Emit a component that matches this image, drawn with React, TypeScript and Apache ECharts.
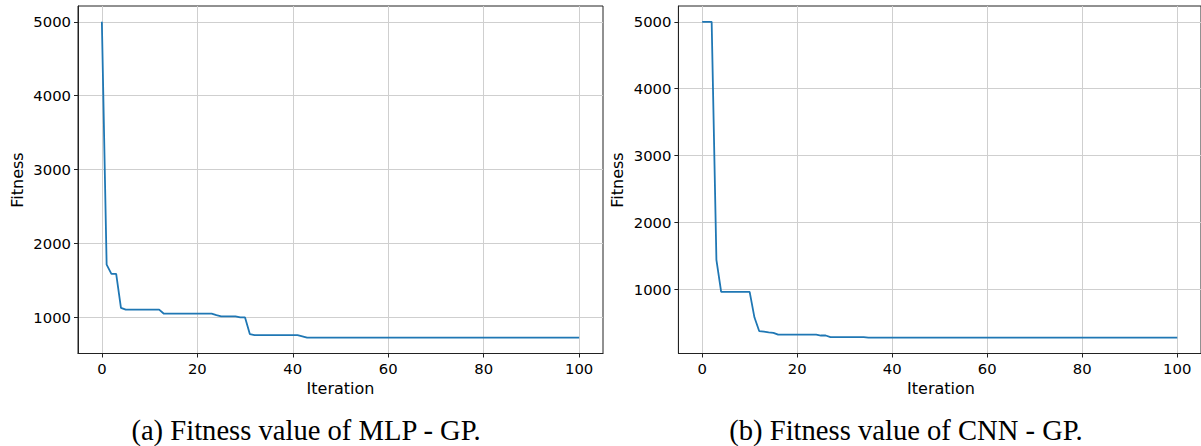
import React, { useEffect, useRef } from "react";
import * as echarts from "echarts";

const iterations: number[] = [
  0, 1, 2, 3, 4, 5, 6, 7, 8, 9, 10, 11, 12, 13, 14, 15, 16, 17, 18, 19, 20,
  21, 22, 23, 24, 25, 26, 27, 28, 29, 30, 31, 32, 33, 34, 35, 36, 37, 38, 39, 40,
  41, 42, 43, 44, 45, 46, 47, 48, 49, 50, 51, 52, 53, 54, 55, 56, 57, 58, 59, 60,
  61, 62, 63, 64, 65, 66, 67, 68, 69, 70, 71, 72, 73, 74, 75, 76, 77, 78, 79, 80,
  81, 82, 83, 84, 85, 86, 87, 88, 89, 90, 91, 92, 93, 94, 95, 96, 97, 98, 99, 100,
];

const mlpFitness: number[] = [
  5000, 1710, 1585, 1585, 1125, 1100, 1100, 1100, 1100, 1100, 1100, 1100, 1100,
  1045, 1045, 1045, 1045, 1045, 1045, 1045, 1045, 1045, 1045, 1045,
  1025, 1008, 1008, 1008, 1008, 995, 995, 770,
  756, 756, 756, 756, 756, 756, 756, 756, 756, 756, 738,
  720, 720, 720, 720, 720, 720, 720, 720, 720, 720, 720, 720, 720, 720, 720, 720,
  720, 720, 720, 720, 720, 720, 720, 720, 720, 720, 720, 720, 720, 720, 720, 720,
  720, 720, 720, 720, 720, 720, 720, 720, 720, 720, 720, 720, 720, 720, 720, 720,
  720, 720, 720, 720, 720, 720, 720, 720, 720, 720,
];

const cnnFitness: number[] = [
  5000, 5000, 5000, 1440, 960, 960, 960, 960, 960, 960, 960, 580, 375, 365, 355,
  348, 320, 320, 320, 320, 320, 320, 320, 320, 320, 308, 308,
  283, 283, 283, 283, 283, 283, 283, 283,
  275, 275, 275, 275, 275, 275, 275, 275, 275, 275, 275, 275, 275, 275, 275, 275,
  275, 275, 275, 275, 275, 275, 275, 275, 275, 275, 275, 275, 275, 275, 275, 275,
  275, 275, 275, 275, 275, 275, 275, 275, 275, 275, 275, 275, 275, 275, 275, 275,
  275, 275, 275, 275, 275, 275, 275, 275, 275, 275, 275, 275, 275, 275, 275, 275,
  275, 275,
];

const xTicks: number[] = [0, 20, 40, 60, 80, 100];
const yTicks: number[] = [1000, 2000, 3000, 4000, 5000];
const xLabel = "Iteration";
const yLabel = "Fitness";
const captions: string[] = ["(a) Fitness value of MLP - GP.", "(b) Fitness value of CNN - GP."];

const FONT = "DejaVu Sans";
const LINE = "#1f77b4";
const TICK_FS = 14.8;
const NAME_FS = 16;

function xAxisCfg(gridIndex: number) {
  return {
    type: "value",
    gridIndex,
    min: -5,
    max: 105,
    axisLine: { show: true, onZero: false, lineStyle: { color: "#222", width: 1 } },
    axisTick: { show: true, length: 4, inside: false, customValues: xTicks, lineStyle: { color: "#222" } },
    axisLabel: {
      show: true,
      customValues: xTicks,
      margin: 7,
      fontFamily: FONT,
      fontSize: TICK_FS,
      color: "#000",
      formatter: (v: number) => String(v),
    },
    splitLine: { show: true, lineStyle: { color: "#cfcfcf", width: 1 } },
  };
}

function yAxisCfg(gridIndex: number, min: number, max: number) {
  return {
    type: "value",
    gridIndex,
    min,
    max,
    axisLine: { show: true, onZero: false, lineStyle: { color: "#222", width: 1 } },
    axisTick: { show: true, length: 4, inside: false, customValues: yTicks, lineStyle: { color: "#222" } },
    axisLabel: {
      show: true,
      customValues: yTicks,
      margin: 7,
      fontFamily: FONT,
      fontSize: TICK_FS,
      color: "#000",
      formatter: (v: number) => String(v),
    },
    splitLine: { show: true, lineStyle: { color: "#cfcfcf", width: 1 } },
  };
}

export default function App() {
  const ref = useRef<HTMLDivElement>(null);
  useEffect(() => {
    if (!ref.current) return;
    const chart = echarts.init(ref.current, undefined, { renderer: "svg" });
    const mlpData = iterations.map((x, i) => [x, mlpFitness[i]]);
    const cnnData = iterations.map((x, i) => [x, cnnFitness[i]]);
    chart.setOption({
      animation: false,
      backgroundColor: "#fff",
      grid: [
        { left: 78, top: 6, width: 525, height: 347.5, show: true, borderColor: "#222", borderWidth: 1, backgroundColor: "transparent" },
        { left: 678.4, top: 6, width: 525.5, height: 347.5, show: true, borderColor: "#222", borderWidth: 1, backgroundColor: "transparent" },
      ],
      xAxis: [xAxisCfg(0), xAxisCfg(1)],
      yAxis: [yAxisCfg(0, 506, 5214), yAxisCfg(1, 39, 5236)],
      series: [
        {
          type: "line",
          xAxisIndex: 0,
          yAxisIndex: 0,
          data: mlpData,
          showSymbol: false,
          symbol: "none",
          lineStyle: { color: LINE, width: 1.8 },
        },
        {
          type: "line",
          xAxisIndex: 1,
          yAxisIndex: 1,
          data: cnnData,
          showSymbol: false,
          symbol: "none",
          lineStyle: { color: LINE, width: 1.8 },
        },
      ],
      graphic: [
        { type: "text", x: 340.5, y: 388.5, style: { text: xLabel, font: `${NAME_FS}px "${FONT}"`, fill: "#000", textAlign: "center", textVerticalAlign: "middle" } },
        { type: "text", x: 941, y: 388.5, style: { text: xLabel, font: `${NAME_FS}px "${FONT}"`, fill: "#000", textAlign: "center", textVerticalAlign: "middle" } },
        { type: "text", x: 17, y: 180, rotation: Math.PI / 2, style: { text: yLabel, font: `${NAME_FS}px "${FONT}"`, fill: "#000", textAlign: "center", textVerticalAlign: "middle" } },
        { type: "text", x: 617.3, y: 180, rotation: Math.PI / 2, style: { text: yLabel, font: `${NAME_FS}px "${FONT}"`, fill: "#000", textAlign: "center", textVerticalAlign: "middle" } },
        { type: "text", x: 306, y: 430, style: { text: captions[0], font: `28.6px "Liberation Serif"`, fill: "#000", textAlign: "center", textVerticalAlign: "middle" } },
        { type: "text", x: 906, y: 430, style: { text: captions[1], font: `28.6px "Liberation Serif"`, fill: "#000", textAlign: "center", textVerticalAlign: "middle" } },
      ],
    });
    return () => chart.dispose();
  }, []);
  return (
    <div
      ref={ref}
      style={{ position: "absolute", left: 0, top: 0, width: 1201, height: 446, overflow: "hidden" }}
    />
  );
}
